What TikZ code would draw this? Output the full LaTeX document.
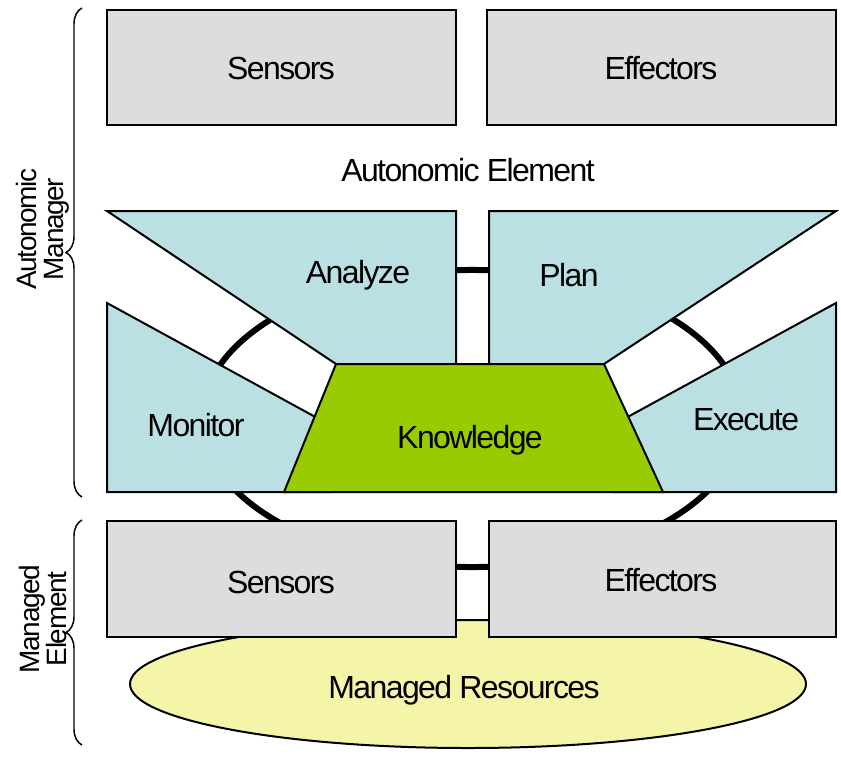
\documentclass[tikz,border=0pt]{standalone}
\usepackage{fontspec}
\setmainfont{Liberation Sans}[LetterSpace=-5]
\usetikzlibrary{decorations.pathreplacing}
\definecolor{AMGray}{HTML}{DDDDDD}
\definecolor{AMBlue}{HTML}{BBE0E3}
\definecolor{AMGreen}{HTML}{99CC00}
\definecolor{AMYellow}{HTML}{F5F5AA}
\tikzset{
  part/.style={draw=black,line width=1.5pt,line join=miter},
  lbl/.style={font=\fontsize{24}{26}\selectfont,inner sep=0pt},
  sidelbl/.style={font=\fontsize{21}{20}\selectfont,align=center,rotate=90,inner sep=0pt},
  brc/.style={decorate,decoration={brace,amplitude=12pt},line width=1.1pt},
}
\begin{document}
\begin{tikzpicture}[x=0.75pt,y=-0.75pt]
\path[use as bounding box] (0,0) rectangle (841,757);
% control loop, only seen in the gaps
\draw[line width=4.5pt] (472,418.5) ellipse [x radius=202.5pt,y radius=111.4pt];
% managed element
\draw[part,fill=AMYellow] (468,684) ellipse [x radius=253.5pt,y radius=48pt];
\draw[part,fill=AMGray] (107,521) rectangle (456,637);
\draw[part,fill=AMGray] (489,521) rectangle (836,637);
% top boxes
\draw[part,fill=AMGray] (107,10) rectangle (456,125);
\draw[part,fill=AMGray] (487,10) rectangle (836,125);
% MAPE parts
\draw[part,fill=AMBlue] (107,211) -- (456,211) -- (456,364) -- (336,364) -- cycle;
\draw[part,fill=AMBlue] (489,211) -- (836,211) -- (604,364) -- (489,364) -- cycle;
\draw[part,fill=AMBlue] (107,303) -- (330,425) -- (330,492) -- (107,492) -- cycle;
\draw[part,fill=AMBlue] (836,303) -- (613,425) -- (613,492) -- (836,492) -- cycle;
\draw[part,fill=AMGreen] (336,364) -- (604,364) -- (663,492) -- (284,492) -- cycle;
% labels
\node[lbl] (sensTop) at (281,68) {Sensors};
\node[lbl] (effTop) at (661,68) {Effectors};
\node[lbl] (element) at (468,170) {Autonomic Element};
\node[lbl] (analyze) at (358,275) {Analyze};
\node[lbl] (plan) at (569,275) {Plan};
\node[lbl] (monitor) at (196,425) {Monitor};
\node[lbl] (execute) at (746,420) {Execute};
\node[lbl] (know) at (470,440) {Knowledge};
\node[lbl] (sensBot) at (281,582) {Sensors};
\node[lbl] (effBot) at (661,580) {Effectors};
\node[lbl] (res) at (464,690) {Managed Resources};
% braces at the left
\draw[brc] (82,497) -- (82,8);
\draw[brc] (82,745) -- (82,520);
\node[sidelbl] (manager) at (43,229) {Autonomic\\Manager};
\node[sidelbl] (managed) at (43,619) {Managed\\Element};
\end{tikzpicture}
\end{document}
